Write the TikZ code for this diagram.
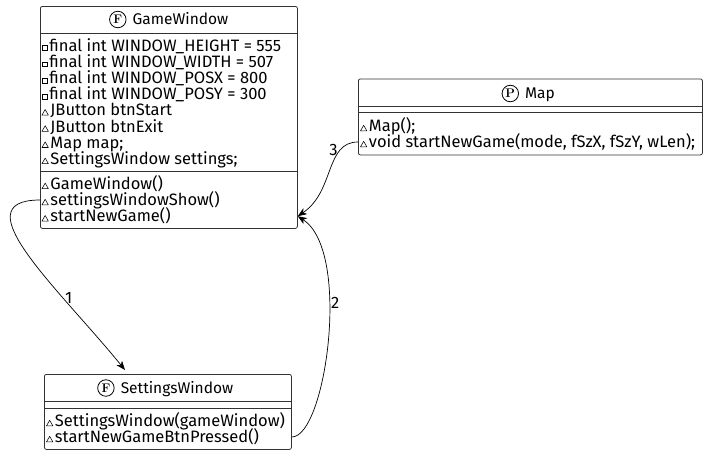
\documentclass[tikz,border=0pt]{standalone}
\usepackage{fontspec}
\setsansfont{Fira Sans}
\usetikzlibrary{arrows.meta,positioning,calc}
\definecolor{frame}{RGB}{50,50,50}
\newcommand\memberfont{\sffamily\fontsize{16.5}{16}\selectfont}
\newcommand\titlefont{\sffamily\fontsize{15.5}{16}\selectfont}
\newcommand\privmark{\tikz[baseline=0pt]\draw[line width=0.55pt] (0,0.6pt) rectangle (5pt,5.4pt);\hspace{2.2pt}}
\newcommand\pkgmark{\tikz[baseline=0pt]\draw[line width=0.55pt,line join=round] (0,0.8pt) -- (6.4pt,0.8pt) -- (3.2pt,6.4pt) -- cycle;\hspace{1.8pt}}

\begin{document}
\begin{tikzpicture}[x=1pt,y=-1pt,
    classbox/.style={draw=frame,line width=0.8pt,rounded corners=2pt,inner sep=0pt,anchor=north west},
    title/.style={font=\titlefont,inner sep=0pt,text height=10.7pt,text depth=0pt},
    badge/.style={circle,draw=black,line width=0.8pt,inner sep=0pt,minimum size=16.5pt,font=\rmfamily\bfseries\fontsize{12.5}{12.5}\selectfont},
    member/.style={font=\memberfont,inner sep=0pt,anchor=west,text height=11.4pt,text depth=0pt},
    sep/.style={draw=frame,line width=0.8pt},
    conn/.style={-{Stealth[length=9pt,width=7pt,inset=2.5pt]},line width=0.7pt},
    lbl/.style={font=\memberfont,inner sep=2pt}]
  \useasboundingbox (0,0) rectangle (716,459);

  % GameWindow
  \node[classbox,minimum width=257pt,minimum height=222pt] (gw) at (40,6) {};
  \node[title] (gwTitle) at (180.5,19.5) {GameWindow};
  \node[badge,left=6pt of gwTitle] (gwIcon) {F};
  \draw[sep] (gw.west |- 0,33.3) -- (gw.east |- 0,33.3);
  \draw[sep] (gw.west |- 0,171.3) -- (gw.east |- 0,171.3);
  \foreach \m/\t [count=\i] in {\privmark/final int WINDOW\_HEIGHT = 555,
      \privmark/final int WINDOW\_WIDTH = 507, \privmark/final int WINDOW\_POSX = 800,
      \privmark/final int WINDOW\_POSY = 300, \pkgmark/JButton btnStart,
      \pkgmark/JButton btnExit, \pkgmark/Map map;, \pkgmark/SettingsWindow settings;}
    \node[member] (gwa\i) at (41.5,{29.2+16.2*\i}) {\m\t};
  \foreach \t [count=\i] in {GameWindow(), settingsWindowShow(), startNewGame()}
    \node[member] (gwm\i) at (41.5,{167.6+16.2*\i}) {\pkgmark\t};

  % Map
  \node[classbox,minimum width=344pt,minimum height=76pt] (map) at (358,78.5) {};
  \node[title] (mapTitle) at (540,93.5) {Map};
  \node[badge,left=6pt of mapTitle] (mapIcon) {P};
  \draw[sep] (map.west |- 0,106) -- (map.east |- 0,106);
  \draw[sep] (map.west |- 0,112.5) -- (map.east |- 0,112.5);
  \node[member] (mapm1) at (360,126) {\pkgmark Map();};
  \node[member] (mapm2) at (360,142) {\pkgmark void startNewGame(mode, fSzX, fSzY, wLen);};

  % SettingsWindow
  \node[classbox,minimum width=247pt,minimum height=75pt] (sw) at (44,374) {};
  \node[title] (swTitle) at (177,388) {SettingsWindow};
  \node[badge,left=6pt of swTitle] (swIcon) {F};
  \draw[sep] (sw.west |- 0,401.7) -- (sw.east |- 0,401.7);
  \draw[sep] (sw.west |- 0,408.3) -- (sw.east |- 0,408.3);
  \node[member] (swm1) at (46,421) {\pkgmark SettingsWindow(gameWindow)};
  \node[member] (swm2) at (46,437) {\pkgmark startNewGameBtnPressed()};

  % calls
  \draw[conn] (gw.west |- gwm2) .. controls +(-80,0) and +(-65,-80) .. ([xshift=81pt,yshift=4pt]sw.north west)
    node[lbl,pos=0.7,anchor=west] (l1) {1};
  \draw[conn] (sw.east |- swm2) .. controls +(34,0) and +(54,35) .. (gw.east |- gwm3)
    node[lbl,pos=0.62,anchor=west] (l2) {2};
  \draw[conn] (map.west |- mapm2) .. controls +(-33,0) and +(37,-25) .. (gw.east |- gwm3)
    node[lbl,pos=0.25,anchor=east] (l3) {3};
\end{tikzpicture}
\end{document}
